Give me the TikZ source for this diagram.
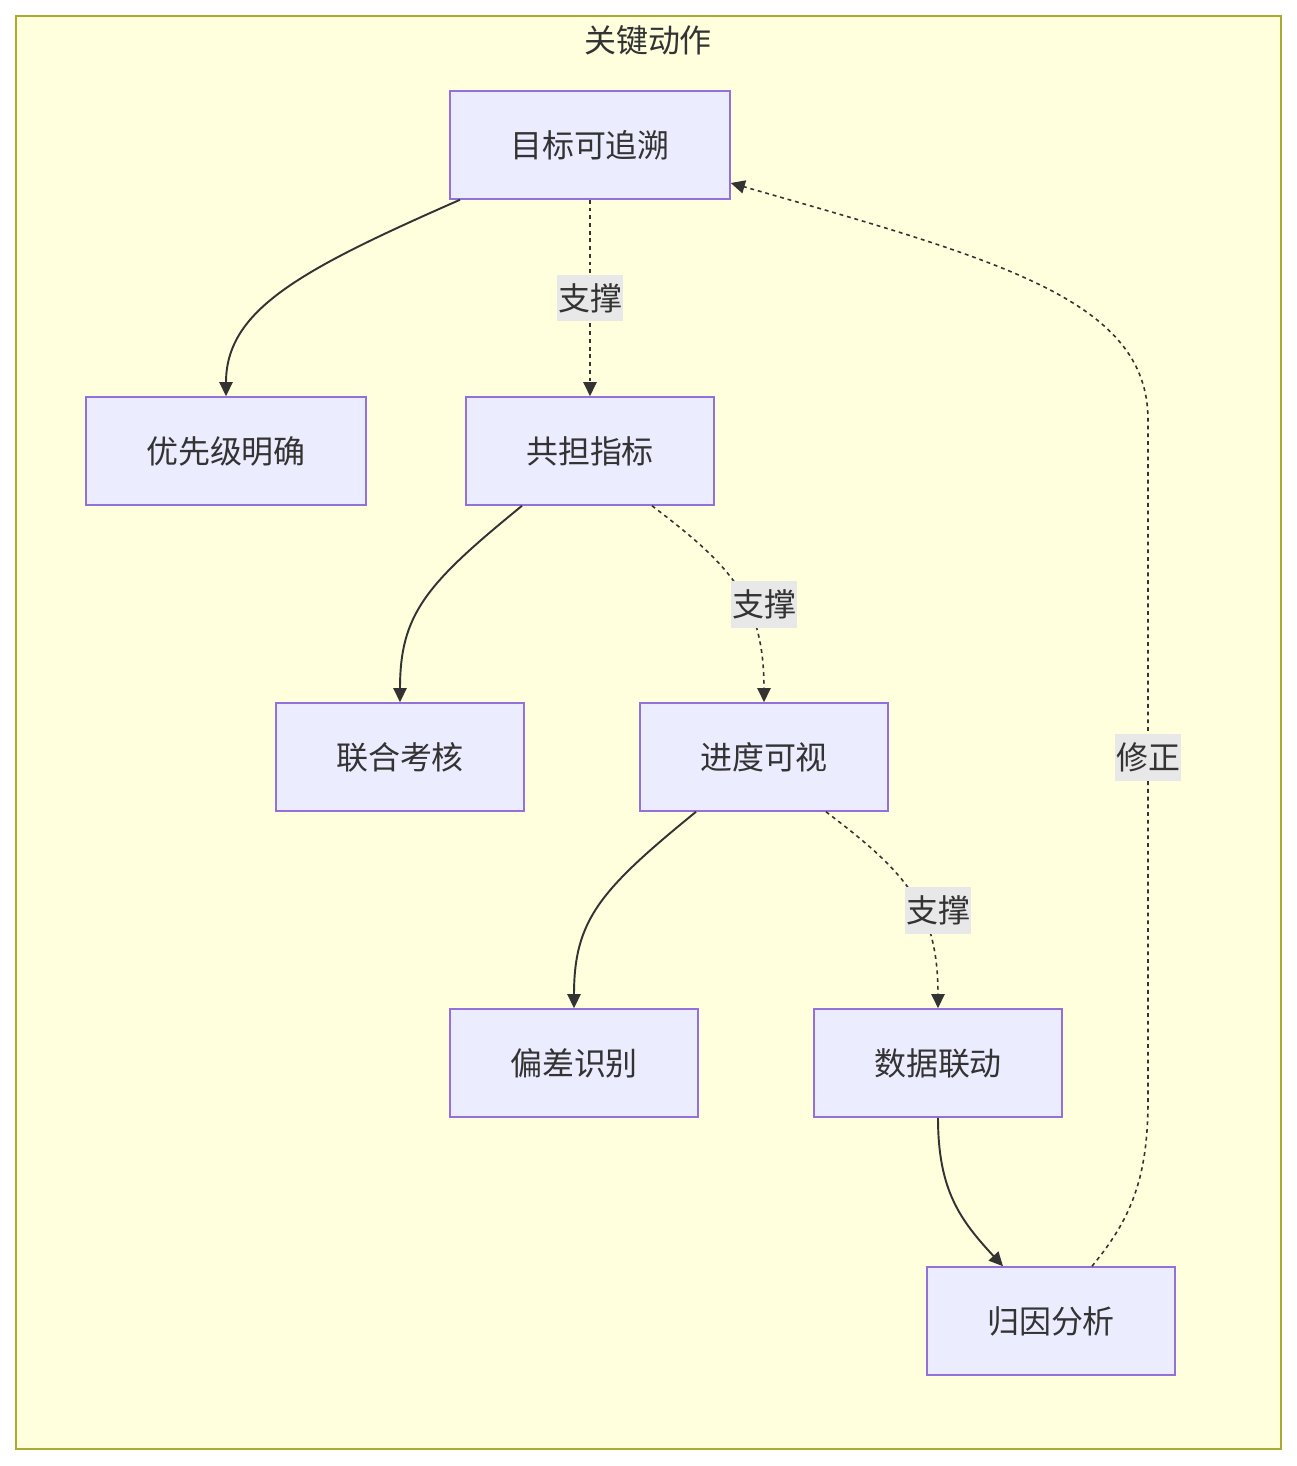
\documentclass[tikz,border=0pt]{standalone}
\usepackage{fontspec}
\setmainfont{Noto Sans CJK SC}
\usepackage{tikz}
\usetikzlibrary{arrows.meta,positioning,calc}

\definecolor{clusterfill}{HTML}{FFFFDE}
\definecolor{clusterline}{HTML}{AAAA33}
\definecolor{boxfill}{HTML}{ECECFF}
\definecolor{boxline}{HTML}{9370DB}
\definecolor{ink}{HTML}{333333}
\definecolor{labelfill}{HTML}{E8E8E8}

\begin{document}
\begin{tikzpicture}[x=0.02cm, y=-0.02cm,
    actbox/.style={draw=boxline, fill=boxfill, line width=0.9pt, minimum width=4.96cm,
        minimum height=2.16cm, inner sep=0pt, text=ink, font=\fontsize{18.2}{21}\selectfont},
    widebox/.style={actbox, minimum width=5.6cm},
    flow/.style={ink, line width=1.1pt, -{Triangle[length=8pt, width=7.5pt]}},
    support/.style={ink, line width=0.9pt, dash pattern=on 2.2pt off 2.2pt, -{Triangle[length=8pt, width=7.5pt]}},
    edgelabel/.style={fill=labelfill, text=ink, inner xsep=0.5pt, minimum height=0.94cm,
        font=\fontsize{18.2}{21}\selectfont}]
    \useasboundingbox (0,0) rectangle (1297,1466);
    \draw[clusterline, fill=clusterfill, line width=0.9pt] (16,16) rectangle (1281,1449);
    \node[text=ink, font=\fontsize{18.2}{21}\selectfont] (title) at (648,40) {关键动作};

    % Boxes
    \node[widebox] (trace) at (590,145) {目标可追溯};
    \node[widebox] (priority) at (226,451) {优先级明确};
    \node[actbox] (share) at (590,451) {共担指标};
    \node[actbox] (review) at (400,757) {联合考核};
    \node[actbox] (visible) at (764,757) {进度可视};
    \node[actbox] (deviation) at (574,1063) {偏差识别};
    \node[actbox] (datalink) at (938,1063) {数据联动};
    \node[actbox] (cause) at (1051,1321) {归因分析};

    % Solid links
    \draw[flow] ($(trace.south)+(-130,0)$) .. controls (300,270) and (226,310) .. (priority.north);
    \draw[flow] ($(share.south)+(-68,0)$) .. controls (426,584) and (400,614) .. (review.north);
    \draw[flow] ($(visible.south)+(-68,0)$) .. controls (600,890) and (574,920) .. (deviation.north);
    \draw[flow] (datalink.south) .. controls (938,1190) and (960,1220) .. ($(cause.north)+(-48,0)$);

    % Dashed links
    \draw[support] (trace.south) -- (share.north);
    \draw[support] ($(share.south)+(62,0)$) .. controls (730,565) and (764,600) .. (visible.north);
    \draw[support] ($(visible.south)+(62,0)$) .. controls (904,871) and (938,906) .. (datalink.north);
    \draw[support] ($(cause.north)+(41,0)$) .. controls (1130,1220) and (1148,1180) .. (1148,1100)
        -- (1148,420) .. controls (1148,300) and (1000,260) .. ($(trace.east)+(0,38)$);

    \node[edgelabel] (lab1) at (590,298) {支撑};
    \node[edgelabel] (lab2) at (764,604) {支撑};
    \node[edgelabel] (lab3) at (938,910) {支撑};
    \node[edgelabel] (lab4) at (1148,757) {修正};
\end{tikzpicture}
\end{document}
